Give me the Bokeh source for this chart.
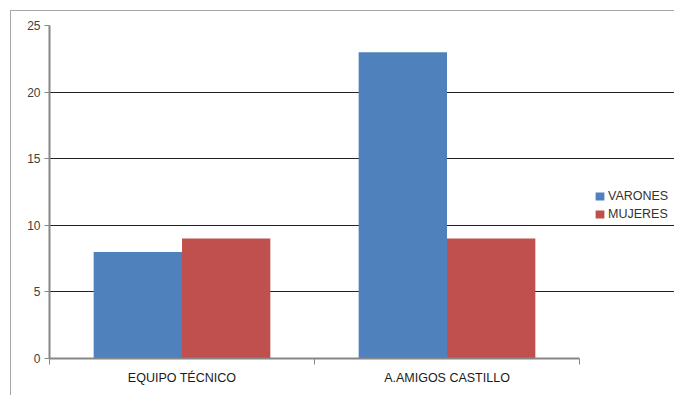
from bokeh.plotting import figure
from bokeh.models import FixedTicker, Legend, LegendItem, ColumnDataSource, Range1d
from bokeh.embed import file_html
from bokeh.resources import INLINE

categories = ["EQUIPO TÉCNICO", "A.AMIGOS CASTILLO"]
varones = [8, 23]
mujeres = [9, 9]
series_names = ["VARONES", "MUJERES"]
y_ticks = [0, 5, 10, 15, 20, 25]

FONT = "Liberation Sans"
BLUE = "#4F81BD"
RED = "#C0504D"
AXIS_GRAY = "#868686"

n = len(categories)
bar_w = 1.0 / 3.0
src = ColumnDataSource(dict(
    x_v=[i + 0.5 - bar_w / 2 for i in range(n)],
    x_m=[i + 0.5 + bar_w / 2 for i in range(n)],
    varones=varones,
    mujeres=mujeres,
))

# layout: plot area is 530 px wide for the categories; the frame extends
# further right (626 px) to host the legend, axis and grid are bounded.
PLOT_PX = 530
FRAME_PX = 626
x_end = n * FRAME_PX / PLOT_PX

p = figure(
    width=664, height=385,
    x_range=Range1d(0, x_end), y_range=Range1d(y_ticks[0], y_ticks[-1]),
    output_backend="svg", toolbar_location=None,
    min_border_left=38, min_border_right=0, min_border_top=14, min_border_bottom=38,
    styles={"border-left": "1px solid #A6A6A6", "border-top": "1px solid #A6A6A6",
            "margin-left": "10px", "margin-top": "10px"},
)
p.outline_line_color = None
p.background_fill_color = "white"
p.border_fill_color = "white"

r1 = p.vbar(x="x_v", top="varones", width=bar_w, source=src, fill_color=BLUE, line_color=None)
r2 = p.vbar(x="x_m", top="mujeres", width=bar_w, source=src, fill_color=RED, line_color=None)

# y axis
p.yaxis.ticker = FixedTicker(ticks=y_ticks)
p.yaxis.axis_line_color = AXIS_GRAY
p.yaxis.axis_line_width = 2
p.yaxis.major_tick_line_color = AXIS_GRAY
p.yaxis.major_tick_out = 5
p.yaxis.major_tick_in = 0
p.yaxis.minor_tick_line_color = None
p.yaxis.major_label_standoff = 4
p.yaxis.major_label_text_font = FONT
p.yaxis.major_label_text_font_size = "12px"
p.yaxis.major_label_text_color = "#404040"

p.ygrid.ticker = FixedTicker(ticks=y_ticks[1:])
p.ygrid.grid_line_color = "#222222"
p.ygrid.grid_line_width = 1
p.ygrid.bounds = (0, n)
p.xgrid.grid_line_color = None

# x axis
centers = [i + 0.5 for i in range(n)]
bounds = [float(i) for i in range(n + 1)]
p.xaxis.ticker = FixedTicker(ticks=centers, minor_ticks=bounds)
p.xaxis.major_label_overrides = {c: lab for c, lab in zip(centers, categories)}
p.xaxis.bounds = (0, n)
p.xaxis.axis_line_color = AXIS_GRAY
p.xaxis.axis_line_width = 2
p.xaxis.major_tick_line_color = None
p.xaxis.major_tick_out = 6
p.xaxis.major_tick_in = 0
p.xaxis.minor_tick_line_color = AXIS_GRAY
p.xaxis.minor_tick_out = 6
p.xaxis.minor_tick_in = 0
p.xaxis.major_label_standoff = 6
p.xaxis.major_label_text_font = FONT
p.xaxis.major_label_text_font_size = "12.5px"
p.xaxis.major_label_text_color = "#1a1a1a"

legend = Legend(
    items=[LegendItem(label=series_names[0], renderers=[r1]),
           LegendItem(label=series_names[1], renderers=[r2])],
    location=(545, 135),
    orientation="vertical",
    glyph_width=11, glyph_height=10,
    label_height=18, spacing=0, padding=0, margin=0,
    label_standoff=3,
    label_text_font=FONT, label_text_font_size="12.5px", label_text_color="#333333",
    border_line_color=None, background_fill_alpha=0,
)
p.add_layout(legend, "center")

open("out.html", "w").write(file_html(p, INLINE))
